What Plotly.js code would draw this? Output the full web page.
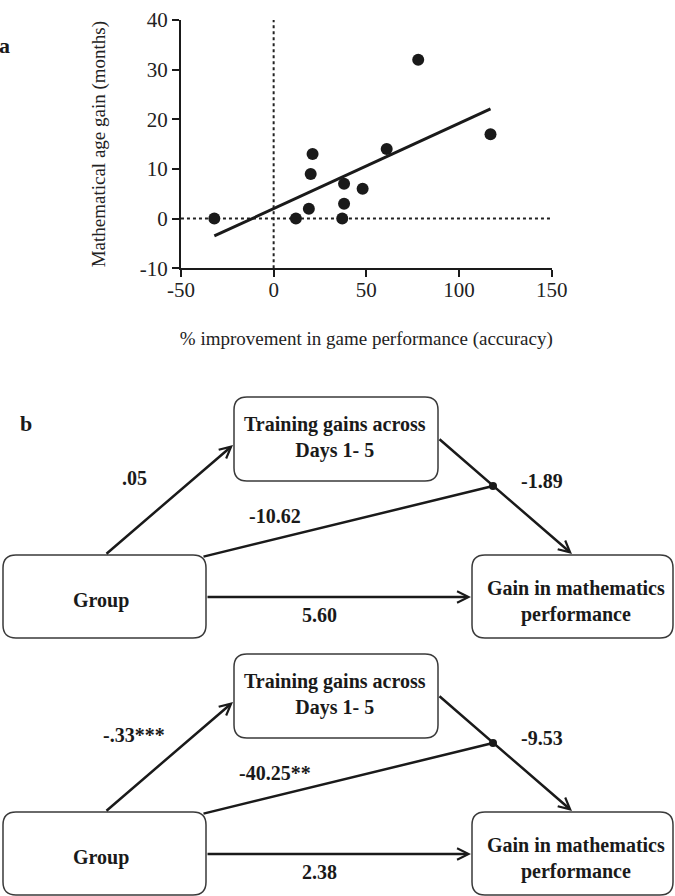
<!DOCTYPE html>
<html><head><meta charset="utf-8">
<script src="https://cdn.plot.ly/plotly-3.0.1.min.js"></script>
<style>html,body{margin:0;padding:0;background:#fff}#chart{width:675px;height:896px}</style>
</head><body><div id="chart"></div>
<script>
// ---- Panel a data ----
const improvement = [-32, 12, 19, 20, 21, 37, 38, 38, 48, 61, 78, 117];
const ageGain     = [0, 0, 2, 9, 13, 0, 3, 7, 6, 14, 32, 17];
const fitX = [-32, 117];
const fitY = [-3.5, 22.1];
const xTickVals = [-50, 0, 50, 100, 150];
const xTickText = ['-50', '0', '50', '100', '150'];
const yTickVals = [-10, 0, 10, 20, 30, 40];
const yTickText = ['-10', '0', '10', '20', '30', '40'];
const xTitle = '% improvement in game performance (accuracy)';
const yTitle = 'Mathematical age gain (months)';

// ---- Panel b data ----
const nodeGroup = 'Group';
const nodeTraining = 'Training gains across<br>Days 1- 5';
const nodeGain = 'Gain in mathematics<br>performance';
// order: group->training, training->gain, interaction, group->gain
const model1Coefs = ['.05', '-1.89', '-10.62', '5.60'];
const model2Coefs = ['-.33***', '-9.53', '-40.25**', '2.38'];

// ---- layout helpers (pixel -> paper) ----
const W = 675, H = 896;
const X = px => px / W;
const Y = py => 1 - py / H;
const INK = '#1a1a1a';
const SERIF = "'Liberation Serif', 'DejaVu Serif', serif";

function roundRect(x0, y0, x1, y1, r) {
  const p = (x, y) => X(x).toFixed(5) + ',' + Y(y).toFixed(5);
  return 'M' + p(x0 + r, y0) + ' L' + p(x1 - r, y0) + ' Q' + p(x1, y0) + ' ' + p(x1, y0 + r) +
    ' L' + p(x1, y1 - r) + ' Q' + p(x1, y1) + ' ' + p(x1 - r, y1) +
    ' L' + p(x0 + r, y1) + ' Q' + p(x0, y1) + ' ' + p(x0, y1 - r) +
    ' L' + p(x0, y0 + r) + ' Q' + p(x0, y0) + ' ' + p(x0 + r, y0) + ' Z';
}

const boxGeom = {
  training: {rect: [234, 397, 438, 481], text: [335, 437]},
  group:    {rect: [3, 555, 206, 638],   text: [101, 600]},
  gain:     {rect: [472, 555, 673, 638], text: [576, 601]}
};
// [tailX, tailY, headX, headY, headStyle]
const arrowGeom = [
  [105, 555, 233, 445, 5],
  [438, 438, 572, 554, 5],
  [202, 557, 493, 486, 6],
  [206, 597, 471, 597, 5]
];
const labelPos = [[134, 478], [542, 481], [275, 516], [319, 615]];
const diagramOffsets = [0, 257];

const shapes = [];
const annotations = [];

// reference lines on panel a
shapes.push({type: 'line', xref: 'x', yref: 'y', x0: 0, x1: 0, y0: -10, y1: 40,
  line: {color: '#222', width: 2, dash: 'dot'}, layer: 'below'});
shapes.push({type: 'line', xref: 'x', yref: 'y', x0: -50, x1: 150, y0: 0, y1: 0,
  line: {color: '#222', width: 2, dash: 'dot'}, layer: 'below'});

annotations.push({text: 'a', xref: 'paper', yref: 'paper', x: X(4), y: Y(45),
  xanchor: 'center', yanchor: 'middle', showarrow: false,
  font: {family: SERIF, size: 22, color: INK, weight: 'bold'}});
annotations.push({text: 'b', xref: 'paper', yref: 'paper', x: X(26), y: Y(423),
  xanchor: 'center', yanchor: 'middle', showarrow: false,
  font: {family: SERIF, size: 22, color: INK, weight: 'bold'}});

[model1Coefs, model2Coefs].forEach((coefs, k) => {
  const dy = diagramOffsets[k];
  const nodes = [['training', nodeTraining], ['group', nodeGroup], ['gain', nodeGain]];
  nodes.forEach(([key, label]) => {
    const g = boxGeom[key];
    const [x0, y0, x1, y1] = g.rect;
    shapes.push({type: 'path', xref: 'paper', yref: 'paper',
      path: roundRect(x0, y0 + dy, x1, y1 + dy, 13),
      line: {color: '#3a3a3a', width: 1.5}, fillcolor: 'rgba(0,0,0,0)'});
    annotations.push({text: label, xref: 'paper', yref: 'paper',
      x: X(g.text[0]), y: Y(g.text[1] + dy), xanchor: 'center', yanchor: 'middle',
      showarrow: false, align: 'center',
      font: {family: SERIF, size: 20, color: INK, weight: 'bold'}});
  });
  arrowGeom.forEach(([tx, ty, hx, hy, hs]) => {
    annotations.push({text: '', xref: 'paper', yref: 'paper',
      x: X(hx), y: Y(hy + dy), ax: tx - hx, ay: ty - hy,
      showarrow: true, arrowhead: hs, arrowsize: hs === 6 ? 0.8 : 0.9,
      arrowwidth: 2.5, arrowcolor: INK});
  });
  coefs.forEach((c, i) => {
    annotations.push({text: c, xref: 'paper', yref: 'paper',
      x: X(labelPos[i][0]), y: Y(labelPos[i][1] + dy), xanchor: 'center', yanchor: 'middle',
      showarrow: false, font: {family: SERIF, size: 20, color: INK, weight: 'bold'}});
  });
});

const traces = [
  {x: fitX, y: fitY, type: 'scatter', mode: 'lines', line: {color: INK, width: 3},
   hoverinfo: 'skip', showlegend: false},
  {x: improvement, y: ageGain, type: 'scatter', mode: 'markers',
   marker: {color: INK, size: 12}, showlegend: false}
];

const layout = {
  width: W, height: H,
  margin: {l: 0, r: 0, t: 0, b: 0},
  paper_bgcolor: '#fff', plot_bgcolor: 'rgba(0,0,0,0)',
  showlegend: false,
  font: {family: SERIF, color: INK},
  xaxis: {domain: [0.2681, 0.8173], range: [-50, 150], tickvals: xTickVals, ticktext: xTickText,
    showgrid: false, zeroline: false, showline: true, linecolor: INK, linewidth: 2,
    ticks: 'outside', ticklen: 7, tickwidth: 2, tickcolor: INK, ticklabelstandoff: -5,
    tickfont: {family: SERIF, size: 21, color: '#222'},
    title: {text: xTitle, standoff: 30, font: {family: SERIF, size: 19, color: '#222'}},
    fixedrange: true, anchor: 'y'},
  yaxis: {domain: [0.7006, 0.9777], range: [-10, 40], tickvals: yTickVals, ticktext: yTickText,
    showgrid: false, zeroline: false, showline: true, linecolor: INK, linewidth: 2,
    ticks: 'outside', ticklen: 7, tickwidth: 2, tickcolor: INK,
    tickfont: {family: SERIF, size: 21, color: '#222'},
    title: {text: yTitle, standoff: 29, font: {family: SERIF, size: 19, color: '#222'}},
    fixedrange: true, anchor: 'x'},
  shapes: shapes,
  annotations: annotations
};

Plotly.newPlot('chart', traces, layout, {displayModeBar: false, staticPlot: true});
</script>
</body></html>
